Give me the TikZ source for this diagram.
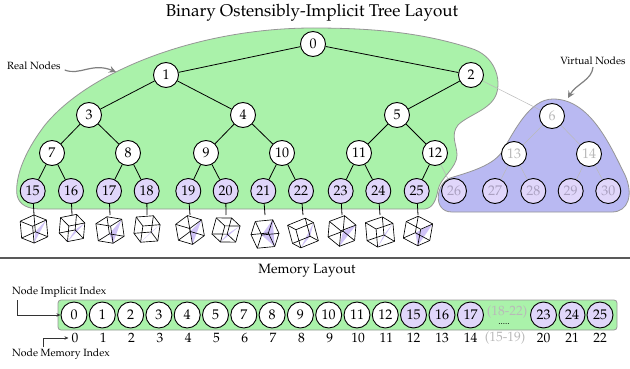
\documentclass[tikz,border=0pt]{standalone}
\usepackage[T1]{fontenc}
\usepackage{mathpazo}
\usetikzlibrary{arrows.meta}
\definecolor{realgreen}{RGB}{170,242,170}
\definecolor{virtblue}{RGB}{185,185,242}
\definecolor{leafpurple}{RGB}{224,214,250}
\definecolor{regionedge}{RGB}{150,150,150}
\definecolor{ghost}{RGB}{185,185,185}
\definecolor{ghostleaf}{RGB}{170,160,192}
\definecolor{cubefill}{RGB}{196,180,245}
\tikzset{
 tn/.style={circle, draw=black, line width=0.9pt, fill=white, minimum size=25pt, inner sep=0pt, font=\fontsize{14}{15}\selectfont},
 leaf/.style={tn, fill=leafpurple},
 vn/.style={tn, text=ghost},
 vleaf/.style={tn, fill=leafpurple, text=ghostleaf},
 edge/.style={draw=black, line width=0.8pt},
 vedge/.style={draw=ghost, line width=0.5pt},
 region/.style={draw=regionedge, line width=0.8pt},
 note/.style={font=\fontsize{10.5}{12}\selectfont, inner sep=0pt},
 notearrow/.style={draw=gray, line width=1.2pt, -{Stealth[length=7pt,width=7pt,inset=2.5pt]}},
 mn/.style={circle, draw=black, line width=0.9pt, fill=white, minimum size=26pt, inner sep=0pt, font=\fontsize{14}{15}\selectfont},
 mleaf/.style={mn, fill=leafpurple},
 idx/.style={font=\fontsize{13.5}{15}\selectfont, inner sep=0pt},
 ghosttext/.style={idx, text=ghost},
 elbow/.style={draw=black!80, line width=0.7pt, -{Stealth[length=4pt,width=3.5pt]}},
 cubeedge/.style={draw=black, line width=0.65pt},
 sep/.style={draw=black!65, line width=1.5pt},
}
\newcommand{\cubeat}[6]{% x, y, theta, phi, roll, half edge
 \begin{scope}[shift={(#1,#2)}, rotate=#5,
   x={({#6*cos(#3)*1pt},{#6*sin(#3)*sin(#4)*1pt})},
   y={(0pt,{#6*cos(#4)*1pt})},
   z={({#6*sin(#3)*1pt},{-#6*cos(#3)*sin(#4)*1pt})}]
 \fill[cubefill, opacity=0.8] (1,1,1) -- (-1,-1,1) -- (1,-1,-1) -- cycle;
 \foreach \a in {-1,1}{\foreach \b in {-1,1}{
   \draw[cubeedge] (-1,\a,\b) -- (1,\a,\b);
   \draw[cubeedge] (\a,-1,\b) -- (\a,1,\b);
   \draw[cubeedge] (\a,\b,-1) -- (\a,\b,1);
 }}
 \end{scope}}
\begin{document}
\begin{tikzpicture}[x=1pt,y=-1pt]
\useasboundingbox (0,0) rectangle (630,369);
% regions
\path[region, fill=realgreen] (40,209) -- (425,209)
 .. controls (433,208) and (436,200) .. (438,190)
 .. controls (440,178) and (457,168) .. (457,155)
 .. controls (457,145) and (450,135) .. (458,125)
 .. controls (468,115) and (490,110) .. (496,95)
 .. controls (502,80) and (495,55) .. (470,48)
 .. controls (420,32) and (370,28) .. (313,28)
 .. controls (200,28) and (90,70) .. (45,125)
 .. controls (22,155) and (15,180) .. (17,195)
 .. controls (19,205) and (28,209) .. (40,209) -- cycle;
\path[region, fill=virtblue] (452,212) -- (612,212)
 .. controls (628,212) and (634,195) .. (625,175)
 .. controls (610,145) and (590,99) .. (553,99)
 .. controls (530,99) and (515,130) .. (503,150)
 .. controls (495,165) and (470,172) .. (450,178)
 .. controls (436,183) and (432,212) .. (452,212) -- cycle;
% title
\node[font=\fontsize{17}{20}\selectfont] (title) at (312,13) {Binary Ostensibly-Implicit Tree Layout};
% tree nodes
\node[tn] (n0) at (313,44) {0};
\node[tn] (n1) at (166,75) {1};
\node[tn] (n2) at (471,75) {2};
\node[tn] (n3) at (89,115) {3};
\node[tn] (n4) at (243,115) {4};
\node[tn] (n5) at (397,115) {5};
\node[vn] (n6) at (552,116) {6};
\node[tn] (n7) at (52,153) {7};
\node[tn] (n8) at (128,153) {8};
\node[tn] (n9) at (206,153) {9};
\node[tn] (n10) at (282,153) {10};
\node[tn] (n11) at (359,153) {11};
\node[tn] (n12) at (435,153) {12};
\node[vn] (n13) at (514,154) {13};
\node[vn] (n14) at (589,154) {14};
\foreach \k/\x in {15/32.7,16/71,17/109,18/146.7,19/188.3,20/225.7,21/263.3,22/301,23/340.7,24/378.3,25/416.7}
  \node[leaf] (n\k) at (\x,191) {\k};
\foreach \k/\x in {26/454,27/495,28/533.3,29/570.7,30/608.3}
  \node[vleaf] (n\k) at (\x,191) {\k};
% edges
\foreach \p/\c in {0/1,0/2,1/3,1/4,2/5,3/7,3/8,4/9,4/10,5/11,5/12,7/15,7/16,8/17,8/18,9/19,9/20,10/21,10/22,11/23,11/24,12/25}
  \draw[edge] (n\p) -- (n\c);
\foreach \p/\c in {2/6,6/13,6/14,12/26,13/27,13/28,14/29,14/30}
  \draw[vedge] (n\p) -- (n\c);
% cubes
\foreach \k/\x/\t/\p/\r/\s/\cy in {15/34/40/25/5/9.3/229,16/72/30/30/-5/9/228,17/110/50/22/8/9.3/230,18/147/25/28/-8/9.3/229,19/190/45/30/10/9.3/230,20/226/35/22/-15/9/230,21/265/60/38/25/9.5/234,22/303/20/20/15/10/233,23/342/40/35/-5/9.5/231,24/380/30/25/5/10/232,25/418/55/28/-10/9.5/231}{
  \coordinate (c\k) at (\x,215);
  \draw[edge] (n\k) -- (c\k);
  \cubeat{\x}{\cy}{\t}{\p}{\r}{\s}
}
% annotations
\node[note, anchor=west] (realtxt) at (7,66) {Real Nodes};
\draw[notearrow] (realtxt.east) ++(4,4) coordinate (ra) .. controls (80,76) and (92,62) .. (116,72);
\node[note] (virttxt) at (593,61) {Virtual Nodes};
\draw[notearrow] (virttxt.south) ++(0,2) .. controls (592,80) and (576,84) .. (568,98);
% separator
\coordinate (sepL) at (0,258);
\coordinate (sepR) at (630,258);
\draw[sep] (sepL) -- (sepR);
% memory layout
\node[font=\fontsize{13.5}{15}\selectfont] (memtitle) at (307,271) {Memory Layout};
\path[region, fill=realgreen, rounded corners=3pt] (58,300) rectangle (617,330);
\foreach \i/\l in {0/0,1/1,2/2,3/3,4/4,5/5,6/7,7/8,8/9,9/10,10/11,11/12}{
  \node[mn] (m\i) at ({74+28.3*\i},315) {\l};
  \node[idx] (i\i) at ({75+28.3*\i},338) {\i};
}
\foreach \i/\l/\x in {12/15/413.5,13/16/442,14/17/470.5,20/23/543.5,21/24/572,22/25/600}{
  \node[mleaf] (m\i) at (\x,315) {\l};
  \node[idx] (i\i) at (\x,338) {\i};
}
\node[ghosttext] (gap) at (507,312) {(18-22)};
\node[font=\fontsize{9}{9}\selectfont, inner sep=0pt] (dots) at (504,324) {.....};
\node[ghosttext] (gapidx) at (505,338) {(15-19)};
\node[note, anchor=west] (impl) at (12,292) {Node Implicit Index};
\node[note, anchor=west] (memi) at (12,354) {Node Memory Index};
\coordinate (ia) at (17,300);
\draw[elbow] (ia) |- (m0.west);
\coordinate (mb) at (43,347);
\draw[elbow] (mb) |- ([xshift=-3pt]i0.west);
\end{tikzpicture}
\end{document}
